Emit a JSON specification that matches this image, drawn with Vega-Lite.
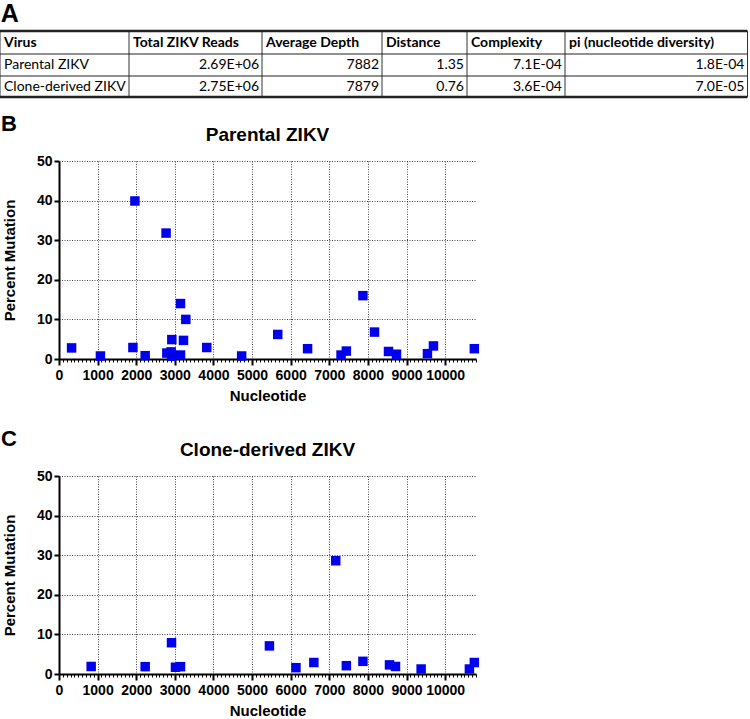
{
  "$schema": "https://vega.github.io/schema/vega-lite/v6.json",
  "background": "white",
  "padding": {"left": -2, "top": 1, "right": 0, "bottom": 0},
  "spacing": 14,
  "config": {
    "view": {"stroke": null},
    "font": "Liberation Sans",
    "title": {"font": "Liberation Sans", "fontWeight": "bold", "color": "black", "baseline": "alphabetic"},
    "axis": {
      "labelFont": "Liberation Sans", "labelFontSize": 14, "labelFontWeight": "bold", "labelColor": "black",
      "titleFont": "Liberation Sans", "titleFontSize": 15, "titleFontWeight": "bold", "titleColor": "black",
      "domainColor": "black", "domainWidth": 2, "tickColor": "black", "tickWidth": 2,
      "gridColor": "#444444", "gridDash": [1, 1.5], "gridWidth": 1
    }
  },
  "datasets": {
    "table": [
      {"Virus": "Parental ZIKV", "Total ZIKV Reads": "2.69E+06", "Average Depth": "7882", "Distance": "1.35", "Complexity": "7.1E-04", "pi (nucleotide diversity)": "1.8E-04"},
      {"Virus": "Clone-derived ZIKV", "Total ZIKV Reads": "2.75E+06", "Average Depth": "7879", "Distance": "0.76", "Complexity": "3.6E-04", "pi (nucleotide diversity)": "7.0E-05"}
    ],
    "columns": [
      {"col": 0, "name": "Virus"},
      {"col": 1, "name": "Total ZIKV Reads"},
      {"col": 2, "name": "Average Depth"},
      {"col": 3, "name": "Distance"},
      {"col": 4, "name": "Complexity"},
      {"col": 5, "name": "pi (nucleotide diversity)"}
    ],
    "vlines": [{"c": 0}, {"c": 1}, {"c": 2}, {"c": 3}, {"c": 4}, {"c": 5}, {"c": 6}],
    "hlines": [{"r": 0}, {"r": 1}, {"r": 2}, {"r": 3}],
    "parental": [
      {"nt": 326, "pct": 2.8}, {"nt": 1073, "pct": 0.76}, {"nt": 1914, "pct": 2.9}, {"nt": 1966, "pct": 39.9},
      {"nt": 2232, "pct": 0.84}, {"nt": 2773, "pct": 31.8}, {"nt": 2793, "pct": 1.5}, {"nt": 2905, "pct": 1.8},
      {"nt": 2914, "pct": 0.7}, {"nt": 2922, "pct": 4.9}, {"nt": 3147, "pct": 14.0}, {"nt": 3147, "pct": 1.0},
      {"nt": 3224, "pct": 4.7}, {"nt": 3284, "pct": 10.0}, {"nt": 3827, "pct": 2.9}, {"nt": 4730, "pct": 0.76},
      {"nt": 5665, "pct": 6.2}, {"nt": 6438, "pct": 2.6}, {"nt": 7305, "pct": 1.0}, {"nt": 7442, "pct": 2.0},
      {"nt": 7871, "pct": 16.0}, {"nt": 8172, "pct": 6.8}, {"nt": 8534, "pct": 1.9}, {"nt": 8741, "pct": 1.2},
      {"nt": 9542, "pct": 1.35}, {"nt": 9698, "pct": 3.3}, {"nt": 10757, "pct": 2.6}
    ],
    "clone": [
      {"nt": 833, "pct": 1.9}, {"nt": 2232, "pct": 1.85}, {"nt": 2914, "pct": 7.9}, {"nt": 3017, "pct": 1.7},
      {"nt": 3147, "pct": 1.85}, {"nt": 5450, "pct": 7.1}, {"nt": 6137, "pct": 1.6}, {"nt": 6600, "pct": 2.9},
      {"nt": 7167, "pct": 28.6}, {"nt": 7442, "pct": 2.1}, {"nt": 7871, "pct": 3.2}, {"nt": 8560, "pct": 2.3},
      {"nt": 8715, "pct": 1.9}, {"nt": 9379, "pct": 1.26}, {"nt": 10629, "pct": 1.26}, {"nt": 10757, "pct": 2.9}
    ]
  },
  "vconcat": [
    {
      "title": {"text": "A", "anchor": "start", "frame": "bounds", "fontSize": 25, "offset": 3, "dx": 2},
      "width": 689,
      "height": 66,
      "layer": [
        {
          "data": {"name": "vlines"},
          "mark": {"type": "rule", "color": "#333333", "strokeWidth": 1},
          "encoding": {
            "x": {"field": "c", "type": "quantitative", "scale": {"domain": [0, 1, 2, 3, 4, 5, 6], "range": [-59, 70, 203, 323, 408, 506, 688.5]}, "axis": null},
            "y": {"datum": 0, "type": "quantitative", "scale": {"domain": [0, 1, 2, 3], "range": [0, 23, 45, 66]}, "axis": null},
            "y2": {"datum": 3}
          }
        },
        {
          "data": {"name": "hlines"},
          "mark": {"type": "rule", "color": "#222222"},
          "encoding": {
            "y": {"field": "r", "type": "quantitative", "axis": null},
            "x": {"datum": 0, "type": "quantitative", "axis": null},
            "x2": {"datum": 6},
            "strokeWidth": {"condition": {"test": "datum.r == 0 || datum.r == 3", "value": 2.5}, "value": 1}
          }
        },
        {
          "data": {"name": "columns"},
          "transform": [{"calculate": "0.5", "as": "ym"}],
          "mark": {"type": "text", "align": "left", "baseline": "middle", "dx": 4, "font": "Lato", "fontSize": 14, "fontWeight": "bold", "color": "black"},
          "encoding": {
            "x": {"field": "col", "type": "quantitative", "axis": null},
            "y": {"field": "ym", "type": "quantitative", "axis": null},
            "text": {"field": "name"}
          }
        },
        {
          "data": {"name": "table"},
          "transform": [
            {"window": [{"op": "row_number", "as": "row"}]},
            {"calculate": "datum.row + 0.5", "as": "ym"}
          ],
          "mark": {"type": "text", "align": "left", "baseline": "middle", "dx": 4, "font": "Lato", "fontSize": 14, "color": "black"},
          "encoding": {
            "x": {"datum": 0, "type": "quantitative", "axis": null},
            "y": {"field": "ym", "type": "quantitative", "axis": null},
            "text": {"field": "Virus"}
          }
        },
        {
          "data": {"name": "table"},
          "transform": [
            {"window": [{"op": "row_number", "as": "row"}]},
            {"fold": ["Total ZIKV Reads", "Average Depth", "Distance", "Complexity", "pi (nucleotide diversity)"], "as": ["key", "value"]},
            {"lookup": "key", "from": {"data": {"name": "columns"}, "key": "name", "fields": ["col"]}},
            {"calculate": "datum.col + 1", "as": "xr"},
            {"calculate": "datum.row + 0.5", "as": "ym"}
          ],
          "mark": {"type": "text", "align": "right", "baseline": "middle", "dx": -3, "font": "Lato", "fontSize": 14, "color": "black"},
          "encoding": {
            "x": {"field": "xr", "type": "quantitative", "axis": null},
            "y": {"field": "ym", "type": "quantitative", "axis": null},
            "text": {"field": "value"}
          }
        }
      ]
    },
    {
      "spacing": 25,
      "vconcat": [
        {
          "title": {"text": "B", "anchor": "start", "fontSize": 22, "offset": -10, "dx": -1},
          "vconcat": [
            {
              "title": {"text": "Parental ZIKV", "anchor": "middle", "fontSize": 19, "offset": 9},
              "width": 417,
              "height": 198,
              "data": {"name": "parental"},
              "mark": {"type": "point", "shape": "square", "filled": true, "size": 90, "color": "#0000ee", "opacity": 1},
              "encoding": {
                "x": {"field": "nt", "type": "quantitative", "scale": {"domain": [0, 10800], "nice": false, "zero": false},
                  "axis": {"tickCount": 108, "format": "d", "title": "Nucleotide", "grid": true,
                    "labelExpr": "datum.value % 1000 == 0 && datum.value <= 10000 ? datum.label : ''",
                    "tickSize": {"condition": {"test": "datum.value % 1000 == 0", "value": 6}, "value": 3},
                    "tickWidth": {"condition": {"test": "datum.value % 1000 == 0", "value": 2}, "value": 1},
                    "gridOpacity": {"condition": {"test": "datum.value % 1000 == 0 && datum.value > 0", "value": 1}, "value": 0},
                    "labelPadding": 3, "labelFlush": false, "labelOverlap": false, "titlePadding": 6}},
                "y": {"field": "pct", "type": "quantitative", "scale": {"domain": [0, 50], "nice": false},
                  "axis": {"values": [0, 10, 20, 30, 40, 50], "format": "d", "title": "Percent Mutation", "grid": true, "tickSize": 5, "labelPadding": 2, "labelOverlap": false, "labelFlush": false, "minExtent": 24, "maxExtent": 24, "titlePadding": 18}}
              }
            }
          ]
        },
        {
          "title": {"text": "C", "anchor": "start", "fontSize": 22, "offset": -10, "dx": -1},
          "vconcat": [
            {
              "title": {"text": "Clone-derived ZIKV", "anchor": "middle", "fontSize": 19, "offset": 9},
              "width": 417,
              "height": 198,
              "data": {"name": "clone"},
              "mark": {"type": "point", "shape": "square", "filled": true, "size": 90, "color": "#0000ee", "opacity": 1},
              "encoding": {
                "x": {"field": "nt", "type": "quantitative", "scale": {"domain": [0, 10800], "nice": false, "zero": false},
                  "axis": {"tickCount": 108, "format": "d", "title": "Nucleotide", "grid": true,
                    "labelExpr": "datum.value % 1000 == 0 && datum.value <= 10000 ? datum.label : ''",
                    "tickSize": {"condition": {"test": "datum.value % 1000 == 0", "value": 6}, "value": 3},
                    "tickWidth": {"condition": {"test": "datum.value % 1000 == 0", "value": 2}, "value": 1},
                    "gridOpacity": {"condition": {"test": "datum.value % 1000 == 0 && datum.value > 0", "value": 1}, "value": 0},
                    "labelPadding": 3, "labelFlush": false, "labelOverlap": false, "titlePadding": 6}},
                "y": {"field": "pct", "type": "quantitative", "scale": {"domain": [0, 50], "nice": false},
                  "axis": {"values": [0, 10, 20, 30, 40, 50], "format": "d", "title": "Percent Mutation", "grid": true, "tickSize": 5, "labelPadding": 2, "labelOverlap": false, "labelFlush": false, "minExtent": 24, "maxExtent": 24, "titlePadding": 18}}
              }
            }
          ]
        }
      ]
    }
  ]
}
